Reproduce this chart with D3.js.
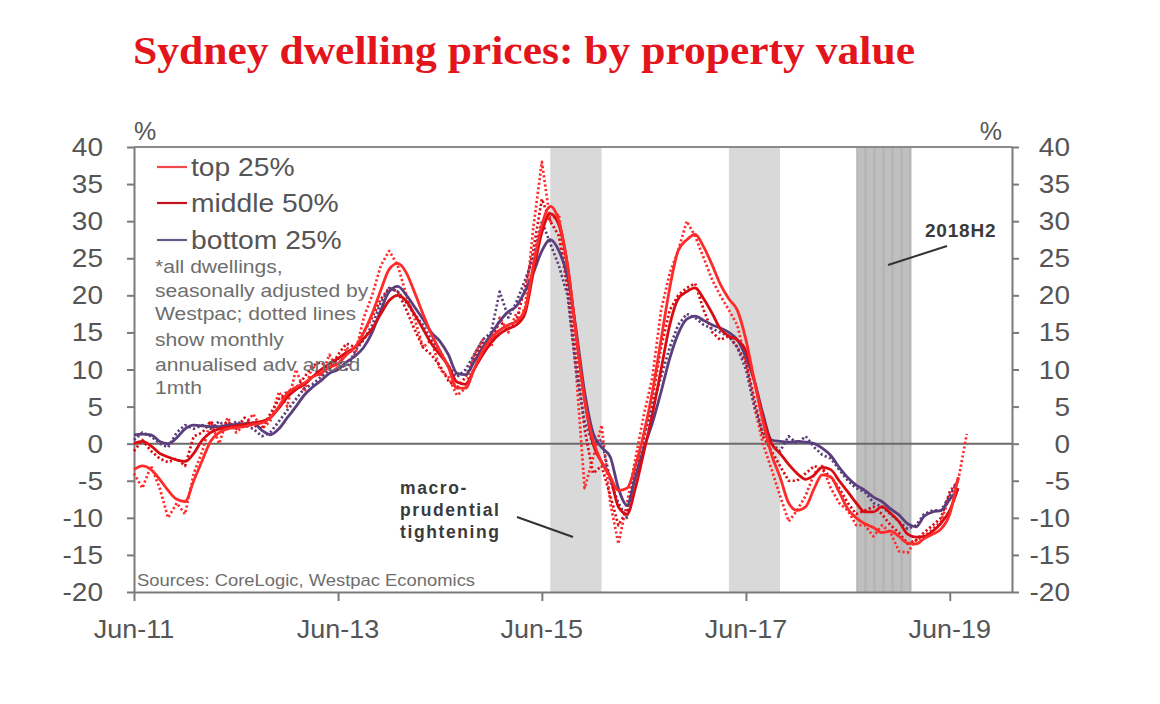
<!DOCTYPE html>
<html><head><meta charset="utf-8">
<script src="https://cdn.jsdelivr.net/npm/d3@7"></script>
<style>
html,body{margin:0;padding:0;background:#fff;}
svg{display:block;font-family:"Liberation Sans",Arial,sans-serif;}
</style></head>
<body><svg id="c" width="1160" height="704"></svg>
<script>
// ---------------- DATA ----------------
const startMonth = new Date(2011, 5, 1);   // Jun-11, monthly observations
const yTicks = [-20, -15, -10, -5, 0, 5, 10, 15, 20, 25, 30, 35, 40];
const xTickLabels = ["Jun-11", "Jun-13", "Jun-15", "Jun-17", "Jun-19"];
const xTickDates = ["2011-06-01", "2013-06-01", "2015-06-01", "2017-06-01", "2019-06-01"];
const seriesNames = ["top 25%", "middle 50%", "bottom 25%"];

// smoothed growth (solid lines), % annualised
const topSolid = [-3.5,-3.0,-3.5,-4.8,-6.3,-7.5,-7.8,-5.0,-2.2,0.3,1.5,2.0,2.2,2.3,2.6,2.8,3.5,5.0,6.8,7.6,
  8.2,9.0,9.5,10.3,10.8,12,13,15,17.5,20.7,23.5,24.3,23.0,20.5,17.5,14.8,12.5,10.3,7.5,7.5,
  10.0,12.5,14.2,15.3,16.0,16.5,18,24,29.5,32,30,24,15,6,0.5,-2.5,-4.5,-6.3,-6.0,-3.0,
  1.5,7,14,21,26,27.5,28.2,26.5,24,21.5,19.5,18,14,8.5,3,-1.5,-4.5,-8,-9,-8.5,
  -6,-4.2,-4.5,-6.5,-8.8,-10,-10.8,-11.3,-12,-11.8,-12.5,-13.4,-13.5,-12.8,-12.2,-11.5,-9.5,-4.5];
const midSolid = [0,0.3,-0.3,-1.3,-1.8,-2.2,-2.4,-1.3,0.5,1.5,2.0,2.2,2.4,2.6,2.8,3.0,3.5,4.8,6.3,7.3,
  8.0,9.0,10.0,10.8,11.5,12.3,13,14.2,15.5,17.5,19.3,20.0,19.2,17.5,15.5,13.5,12,10.5,8.3,8.0,
  10,12,13.6,14.8,15.5,16,17.5,23,28.5,31,29.5,24,15,6,0,-2.5,-4.5,-8.5,-9.5,-6,
  -1,4,10,16,19.5,20.5,21,19.5,17.5,15.5,14.5,14,12.5,8.5,3.5,0,-1.3,-2.8,-4,-4.8,
  -4.2,-3.2,-3.5,-5,-6.5,-8,-9.2,-9.2,-8.5,-9.4,-10.5,-12.2,-12.6,-12.5,-11.8,-10.7,-9,-6];
const botSolid = [1.2,1.3,1.2,0.3,0,0.8,2.0,2.5,2.4,2.3,2.3,2.5,2.6,2.7,2.8,1.8,1.2,2.0,3.5,5.0,
  6.6,7.6,8.5,9.5,10.0,11.0,11.8,13.0,15.0,18.0,20.5,21.2,20.0,18.5,16.8,15.0,13.8,12.0,9.5,9.3,
  11.0,13.0,14.8,16.5,17.8,18.5,20.5,23.0,26.0,27.5,26,22.5,15.5,7,1.5,-0.5,-1.8,-6.0,-8.3,-4.5,
  -0.5,2.8,7.0,11.5,14.8,16.8,17.2,16.6,16.0,15.6,15.0,14.0,11.7,8.5,4.0,0.5,0.3,0.2,0.3,0.2,
  0,-0.6,-1.6,-3.2,-4.6,-5.6,-6.3,-7.2,-7.8,-8.8,-9.6,-10.8,-11.2,-9.8,-9.2,-9.0,-7.5,-6.2];

// monthly annualised, advanced 1 month (dotted lines)
const topDotted = [-4,-6,-3,-6,-10,-8,-9.5,-4,-1,3,0,3.5,1.5,2.5,4,2,3,7,5,10,
  7,10.5,9,12,10,13,12,17,20,24,26,24,20,17,13,14,10,9,6.5,7.5,
  12,14,13,17,15,17.5,18,29,38,30,31,21,10,-6,-2,2.5,-8,-13.5,-8,-2,
  4,9,18,23,26,30,28,25,22,20,18,16,11,5,0,-3.5,-7,-10.5,-9,-7,
  -4,-3,-6,-8,-9,-11,-11,-12.5,-11,-12,-14.5,-14.7,-13,-12.5,-11.5,-10.5,-7,-5,1.3];
const midDotted = [-1,0.5,-1,-2,-2.5,-2,-3,1,1.5,3,2,3,2,3.5,2.5,2,4,6,7,7.5,
  9,10.5,11,10,12,13.5,13,15,17,19.5,21,20.5,18,15.5,13,12,10.5,8.5,7.5,9,
  11.5,13.5,14,16.5,15.5,16.5,21,26,33,30,28,21,12,2,-4,-3,-7,-11,-9,-4,
  1,6,13,18,20,21,21.6,18,15,14,14.5,13,11,6,1,-1,-3,-5,-5,-4,
  -3,-3.5,-4.5,-6,-8,-9.5,-9,-8.5,-9.5,-11,-12,-13.5,-13,-12,-11,-10,-6.5,-5];
const botDotted = [0.5,1.5,1,0,-0.5,1.5,2.5,2,2.5,2,3,2,3,2.5,2,1,1.5,3,4.5,6,
  7.5,8,9,10,11.5,10,12.5,14,16,19,21,20.5,19,17.5,16,14,12.5,10.5,9,10,
  12,14,15,20.5,17,19,22,25,30,27,24,20,10,3,0,0.5,-5,-8,-10,-3,
  1,5,9,13,16,17.5,17,16,15.5,15,14.5,13,10,5,1.5,0,-1,1,0,1,
  -0.5,-1.5,-2,-3.5,-5,-6,-6.5,-8,-8.5,-9.5,-10.5,-11.5,-11,-9.5,-9,-9,-7,-5];

// shaded periods
const lightBands = [["2015-07-01", "2016-01-01"], ["2017-04-01", "2017-10-01"]];
const darkBand = ["2018-07-01", "2019-01-15"];

const noteLines = ["*all dwellings,", "seasonally adjusted by", "Westpac; dotted lines",
  "show monthly", "annualised adv anced", "1mth"];

// ---------------- CHART ----------------
const svg = d3.select("#c");
const L = 134, R = 1012, T = 147, B = 592;
const SX = 1.12; // horizontal stretch of the source image
const parse = d3.timeParse("%Y-%m-%d");
const x = d3.scaleTime().domain([startMonth, new Date(2020, 0, 10)]).range([L, R]);
const y = d3.scaleLinear().domain([-20, 40]).range([B, T]);
const monthAt = i => d3.timeMonth.offset(startMonth, i);

const colTop = "#ff2b2b", colMid = "#d80c12", colBot = "#5b3f7c";

function txt(g, tx, ty, s, o = {}) {
  return g.append("text")
    .attr("transform", `translate(${tx},${ty}) scale(${o.sx || SX},1)`)
    .attr("text-anchor", o.anchor || "start")
    .attr("font-size", o.size || 25)
    .attr("font-weight", o.weight || "normal")
    .attr("font-family", o.family || "'Liberation Sans',Arial,sans-serif")
    .attr("letter-spacing", o.ls || 0)
    .attr("fill", o.fill || "#555")
    .text(s);
}

// title
svg.append("text").attr("x", 133).attr("y", 64)
  .attr("font-family", "'Liberation Serif','Times New Roman',serif")
  .attr("font-weight", "bold").attr("font-size", 39).attr("fill", "#e3141c")
  .attr("textLength", 782).attr("lengthAdjust", "spacingAndGlyphs")
  .text("Sydney dwelling prices: by property value");

// bands
const defs = svg.append("defs");
const pat = defs.append("pattern").attr("id", "stripes").attr("patternUnits", "userSpaceOnUse")
  .attr("width", 9).attr("height", 10);
pat.append("rect").attr("width", 9).attr("height", 10).attr("fill", "#bfbfbf");
pat.append("rect").attr("width", 3).attr("height", 10).attr("fill", "#b6b6b6");

lightBands.forEach(b => {
  svg.append("rect").attr("x", x(parse(b[0]))).attr("y", T)
    .attr("width", x(parse(b[1])) - x(parse(b[0]))).attr("height", B - T).attr("fill", "#d9d9d9");
});
svg.append("rect").attr("x", x(parse(darkBand[0]))).attr("y", T)
  .attr("width", x(parse(darkBand[1])) - x(parse(darkBand[0]))).attr("height", B - T)
  .attr("fill", "url(#stripes)");

// zero line
svg.append("line").attr("x1", L).attr("x2", R).attr("y1", y(0)).attr("y2", y(0))
  .attr("stroke", "#6a6a6a").attr("stroke-width", 2);

// frame
svg.append("line").attr("x1", L).attr("x2", R).attr("y1", T).attr("y2", T).attr("stroke", "#8a8a8a").attr("stroke-width", 2);

// axes
const axL = svg.append("g").attr("transform", `translate(${L},0)`)
  .call(d3.axisLeft(y).tickValues(yTicks).tickSize(7).tickSizeOuter(0).tickFormat(""));
const axR = svg.append("g").attr("transform", `translate(${R},0)`)
  .call(d3.axisRight(y).tickValues(yTicks).tickSize(7).tickSizeOuter(0).tickFormat(""));
const axB = svg.append("g").attr("transform", `translate(0,${B})`)
  .call(d3.axisBottom(x).tickValues(xTickDates.map(parse)).tickSize(9).tickSizeOuter(0).tickFormat(""));
[axL, axR, axB].forEach(a => {
  a.selectAll("path,line").attr("stroke", "#7a7a7a").attr("stroke-width", 2);
});

const labG = svg.append("g");
yTicks.forEach(t => {
  txt(labG, 103, y(t) + 9, String(t), { anchor: "end", size: 25 });
  txt(labG, 1070, y(t) + 9, String(t), { anchor: "end", size: 25 });
});
xTickDates.forEach((d, i) => {
  txt(labG, x(parse(d)), 638, xTickLabels[i], { anchor: "middle", size: 25, sx: 1.08 });
});
txt(labG, 134, 140, "%", { size: 25, sx: 1.0 });
txt(labG, 1002, 140, "%", { size: 25, anchor: "end", sx: 1.0 });

// lines
const lineGen = d3.line().x((d, i) => x(monthAt(i))).y(d => y(d)).curve(d3.curveLinear);
const plot = svg.append("g");
[[topDotted, colTop], [midDotted, colMid], [botDotted, colBot]].forEach(([s, c]) => {
  plot.append("path").datum(s).attr("d", lineGen).attr("fill", "none")
    .attr("stroke", c).attr("stroke-width", 2.7).attr("stroke-dasharray", "2.2,2.4")
    .attr("stroke-linejoin", "round");
});
[[botSolid, colBot], [midSolid, colMid], [topSolid, colTop]].forEach(([s, c]) => {
  plot.append("path").datum(s).attr("d", lineGen.curve(d3.curveMonotoneX)).attr("fill", "none")
    .attr("stroke", c).attr("stroke-width", 2.8).attr("stroke-linejoin", "round");
});

// legend
const lg = svg.append("g");
const legCols = ["#f0484c", "#c4101c", "#6b5a88"];
const legY = [167, 203, 240];
seriesNames.forEach((n, i) => {
  lg.append("line").attr("x1", 157).attr("x2", 187).attr("y1", legY[i]).attr("y2", legY[i])
    .attr("stroke", legCols[i]).attr("stroke-width", 2.2);
  txt(lg, 191, legY[i] + 9, n, { size: 25, sx: 1.13 });
});
const noteY = [273, 297, 320, 346, 371, 394];
noteLines.forEach((l, i) => txt(lg, 155, noteY[i], l, { size: 18.5, sx: 1.14, fill: "#6e6e6e" }));

// sources
txt(svg, 137, 586, "Sources: CoreLogic, Westpac Economics", { size: 16, sx: 1.15, fill: "#6e6e6e" });

// annotations
const an = svg.append("g");
["macro-", "prudential", "tightening"].forEach((s, i) => {
  txt(an, 400, [494, 516, 538][i], s, { size: 17.5, weight: "bold", ls: 1.6, sx: 1.0, fill: "#3a3a3a" });
});
an.append("line").attr("x1", 517).attr("y1", 517).attr("x2", 573).attr("y2", 537)
  .attr("stroke", "#333").attr("stroke-width", 2);
txt(an, 925, 237, "2018H2", { size: 19, weight: "bold", ls: 0.8, sx: 1.0, fill: "#3a3a3a" });
an.append("line").attr("x1", 888).attr("y1", 265).attr("x2", 947).attr("y2", 246)
  .attr("stroke", "#333").attr("stroke-width", 2);
</script></body></html>
